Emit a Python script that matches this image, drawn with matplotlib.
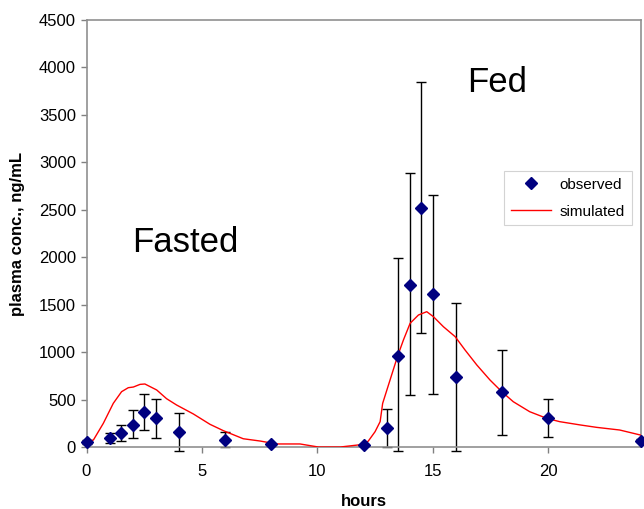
import numpy as np
import matplotlib.pyplot as plt

plt.rcParams['font.family'] = ['Liberation Sans', 'DejaVu Sans']

# observed mean concentrations with error bar limits
obs_t = [0, 1, 1.5, 2, 2.5, 3, 4, 6, 8, 12, 13, 13.5, 14, 14.5, 15, 16, 18, 20, 24]
obs_c = [50, 98, 144, 235, 366, 306, 158, 77, 28, 21, 197, 959, 1707, 2522, 1609, 741, 576, 309, 66]
obs_hi = [70, 144, 235, 393, 555, 506, 355, 155, 35, 30, 397, 1995, 2884, 3843, 2655, 1514, 1022, 503, 80]
obs_lo = [30, 45, 66, 98, 179, 98, -45, 0, 20, 12, 0, -40, 548, 1198, 558, -40, 126, 102, 52]

# simulated profile
sim_t = [0, 0.3, 0.73, 1.16, 1.52, 1.81, 2.03, 2.32, 2.53, 3.04, 3.47, 3.9, 4.63, 5.35,
         5.93, 6.79, 7.52, 8.24, 9.25, 10.04, 11.0, 12.0, 12.21, 12.5, 12.72, 12.83,
         13.15, 13.47, 13.73, 14.02, 14.38, 14.74, 15.03, 15.46, 15.97, 16.4, 16.91,
         17.48, 17.99, 18.49, 19.2, 19.94, 20.5, 21.4, 22.1, 23.1, 24]
sim_c = [50, 74, 250, 460, 583, 625, 632, 660, 664, 601, 509, 443, 348, 239,
         172, 87, 63, 32, 32, 0, 0, 28, 63, 161, 267, 460,
         706, 952, 1128, 1304, 1391, 1426, 1373, 1268, 1163, 1022, 864,
         706, 583, 477, 372, 302, 267, 232, 207, 179, 126]

fig = plt.figure(figsize=(6.44, 5.09), dpi=100)
ax = fig.add_axes([86.5 / 644, (509 - 447) / 509, 554 / 644, 427 / 509])

obs_c = np.array(obs_c)
yerr = [obs_c - np.array(obs_lo), np.array(obs_hi) - obs_c]
eb = ax.errorbar(obs_t, obs_c, yerr=yerr, fmt='none', ecolor='black', elinewidth=1,
                 capsize=3.8, capthick=1, zorder=2)
for art in eb.lines[1] + eb.lines[2]:
    art.set_clip_on(False)
ax.plot(sim_t, sim_c, color='red', lw=1, label='simulated', zorder=3)
ax.plot(obs_t, obs_c, 'D', color='#000080', ms=6.5, label='observed',
        zorder=4, clip_on=False)

ax.set_xlim(0, 24)
ax.set_ylim(0, 4500)
ax.set_xticks([0, 5, 10, 15, 20])
ax.set_yticks(np.arange(0, 4501, 500))
ax.tick_params(labelsize=12, color='#808080', length=4, width=1)
ax.tick_params(axis='x', pad=8)

for side in ax.spines:
    ax.spines[side].set_color('#909090')
    ax.spines[side].set_linewidth(1.2)

ax.set_xlabel('hours', fontsize=12, fontweight='bold')
ax.xaxis.set_label_coords(0.5, -47 / 427)
ax.set_ylabel('plasma conc., ng/mL', fontsize=12, fontweight='bold')
ax.yaxis.set_label_coords(-61 / 554, 0.5)

ax.text(4.27, 2160, 'Fasted', fontsize=25, ha='center', va='center')
ax.text(17.8, 3846, 'Fed', fontsize=25, ha='center', va='center')

handles, labels = ax.get_legend_handles_labels()
leg = ax.legend(handles[::-1], labels[::-1], loc='upper left',
                bbox_to_anchor=(417.5 / 554, (447 - 170.7) / 427), borderaxespad=0,
                fontsize=11, frameon=True, fancybox=False, edgecolor='#c8c8c8',
                borderpad=0.45, handlelength=2.6, handletextpad=0.6, labelspacing=0.85)
leg.get_frame().set_linewidth(0.8)

fig.savefig('out.png', dpi=100)
